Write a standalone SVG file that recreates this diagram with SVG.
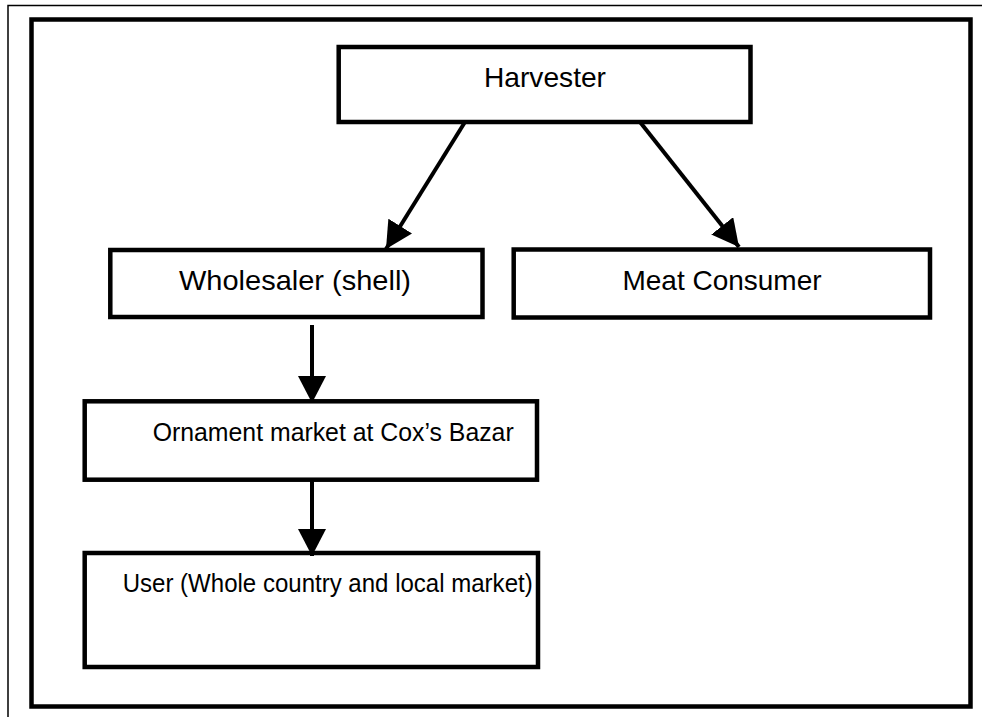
<svg xmlns="http://www.w3.org/2000/svg" width="982" height="717" viewBox="0 0 982 717">
<defs>
<style>
.box{fill:#fff;stroke:#000;stroke-width:4.5}
.lbl{font-family:"Liberation Sans",Arial,sans-serif;font-size:28px;fill:#000}
.sm{font-size:26px}
.con{stroke:#000;stroke-width:4;fill:none}
</style>
<marker id="ah" viewBox="0 0 27 28" refX="27" refY="14" markerWidth="27" markerHeight="28" markerUnits="userSpaceOnUse" orient="auto">
<path d="M0,0 L27,14 L0,28 Z" fill="#000"/>
</marker>
</defs>
<rect width="982" height="717" fill="#fff"/>
<path d="M8,717 V5.5 H982" fill="none" stroke="#000" stroke-width="1.5"/>
<rect x="31.5" y="19.5" width="939" height="687" fill="none" stroke="#000" stroke-width="4.5"/>
<g id="harvester">
<rect class="box" x="338.7" y="47" width="411.8" height="75"/>
<text class="lbl" x="545" y="86.7" text-anchor="middle" textLength="122" lengthAdjust="spacingAndGlyphs">Harvester</text>
</g>
<g id="wholesaler">
<rect class="box" x="110.3" y="250" width="372.2" height="67"/>
<text class="lbl" x="179" y="290" textLength="232" lengthAdjust="spacingAndGlyphs">Wholesaler (shell)</text>
</g>
<g id="meat">
<rect class="box" x="513.7" y="249.5" width="416.3" height="68"/>
<text class="lbl" x="722" y="290" text-anchor="middle">Meat Consumer</text>
</g>
<g id="ornament">
<rect class="box" x="84.7" y="401.3" width="452.3" height="78.4"/>
<text class="lbl sm" x="152.7" y="440.7" textLength="361" lengthAdjust="spacingAndGlyphs">Ornament market at Cox’s Bazar</text>
</g>
<g id="user">
<rect class="box" x="84.7" y="553" width="453.3" height="114"/>
<text class="lbl sm" x="122.7" y="591.7" textLength="410" lengthAdjust="spacingAndGlyphs">User (Whole country and local market)</text>
</g>
<g id="connectors">
<line class="con" x1="465" y1="122" x2="386" y2="249" marker-end="url(#ah)"/>
<line class="con" x1="640" y1="122" x2="739" y2="247" marker-end="url(#ah)"/>
<line class="con" x1="312" y1="325" x2="312" y2="403" marker-end="url(#ah)"/>
<line class="con" x1="312" y1="478" x2="312" y2="556" marker-end="url(#ah)"/>
</g>
</svg>
